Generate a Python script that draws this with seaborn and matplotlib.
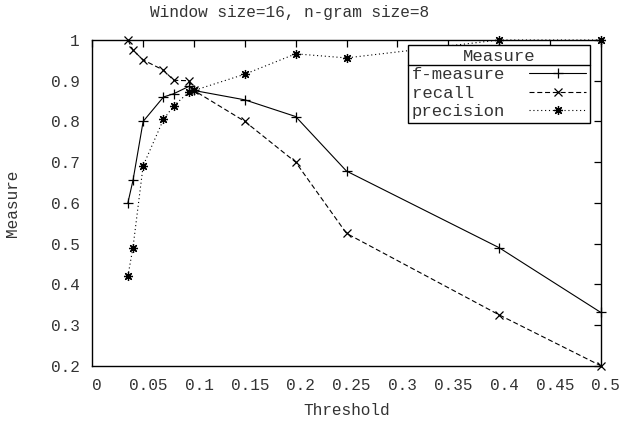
import matplotlib
matplotlib.use("Agg")
import matplotlib.pyplot as plt
import matplotlib.transforms as mtransforms
from matplotlib.lines import Line2D
import seaborn as sns

# Detection quality against the decision threshold
threshold = [0.035, 0.04, 0.05, 0.07, 0.08, 0.095, 0.1, 0.15, 0.2, 0.25, 0.4, 0.5]
f_measure = [0.600, 0.655, 0.800, 0.860, 0.868, 0.886, 0.876, 0.853, 0.812, 0.678, 0.490, 0.331]
recall = [1.000, 0.975, 0.951, 0.926, 0.901, 0.900, 0.876, 0.800, 0.700, 0.525, 0.325, 0.200]
precision = [0.420, 0.490, 0.691, 0.805, 0.838, 0.872, 0.876, 0.916, 0.966, 0.956, 1.000, 1.000]

series_names = ["f-measure", "recall", "precision"]
x_ticks = [0, 0.05, 0.1, 0.15, 0.2, 0.25, 0.3, 0.35, 0.4, 0.45, 0.5]
x_tick_labels = ["0", "0.05", "0.1", "0.15", "0.2", "0.25", "0.3", "0.35", "0.4", "0.45", "0.5"]
y_ticks = [0.2, 0.3, 0.4, 0.5, 0.6, 0.7, 0.8, 0.9, 1.0]
y_tick_labels = ["0.2", "0.3", "0.4", "0.5", "0.6", "0.7", "0.8", "0.9", "1"]

sns.set_theme(style="white")
plt.rcParams["font.family"] = ["Liberation Mono", "DejaVu Sans Mono"]
TXT = "#333333"
plt.rcParams["text.color"] = TXT

FS = 11.6
LFS = 12.4
fig = plt.figure(figsize=(6.24, 4.29), dpi=100)
W, H = 624, 429
left, right, top, bottom = 92.3, 600.7, 40.0, 365.7
ax = fig.add_axes([left / W, 1 - bottom / H, (right - left) / W, (bottom - top) / H])

styles = [
    dict(linestyle="-", marker="+", markersize=7),
    dict(linestyle=(0, (4.5, 2.5)), marker="x", markersize=6),
    dict(linestyle=(0, (1, 2.5)), marker=(8, 2, 0), markersize=6.5),
]
# monospaced labels padded to equal width so they line up on the left
width = max(len(n) for n in series_names)
for name, vals, st in zip(series_names, [f_measure, recall, precision], styles):
    sns.lineplot(x=threshold, y=vals, ax=ax, color="black", lw=0.8,
                 markeredgewidth=0.9, markeredgecolor="black",
                 label=name.ljust(width), clip_on=False, zorder=3, **st)

ax.set_xlim(0, 0.5)
ax.set_ylim(0.2, 1.0)
ax.set_xticks(x_ticks)
ax.set_xticklabels(x_tick_labels)
ax.set_yticks(y_ticks)
ax.set_yticklabels(y_tick_labels)

for sp in ax.spines.values():
    sp.set_color("black")
    sp.set_linewidth(1.0)
ax.tick_params(axis="both", direction="in", length=5, width=0.9, color="black",
               top=True, right=True, labelsize=FS, labelcolor=TXT)
ax.tick_params(axis="x", pad=9)
ax.tick_params(axis="y", pad=9)

# gnuplot-style offset of x tick labels
shift = mtransforms.ScaledTranslation(5 / 100, 0, fig.dpi_scale_trans)
for lbl in ax.get_xticklabels():
    lbl.set_transform(lbl.get_transform() + shift)

ax.set_xlabel("Threshold", fontsize=FS, color=TXT, labelpad=7)
ax.set_ylabel("Measure", fontsize=FS, color=TXT, labelpad=22)
fig.text(290 / W, 1 - 13 / H, "Window size=16, n-gram size=8", ha="center", va="center",
         fontsize=FS, color=TXT)

lg = ax.legend(title="Measure", loc="upper right", bbox_to_anchor=(0.979, 0.985),
               borderaxespad=0, markerfirst=False, fontsize=LFS,
               title_fontsize=LFS, frameon=True, fancybox=False, shadow=False,
               framealpha=1, edgecolor="black", handlelength=3.3, handletextpad=1.4,
               borderpad=0.22, labelspacing=0.2)
lg.get_frame().set_linewidth(1.0)
lg.set_zorder(5)
for t in lg.get_texts():
    t.set_color(TXT)
lg.get_title().set_color(TXT)

fig.canvas.draw()
r = fig.canvas.get_renderer()
fb = lg.get_frame().get_window_extent(r)
tb = lg.get_title().get_window_extent(r)
ysep = tb.y0 - 1
fig.add_artist(Line2D([fb.x0 / W, fb.x1 / W], [ysep / H, ysep / H], color="black",
                      lw=1.0, transform=fig.transFigure, zorder=6))

fig.savefig("out.png", dpi=100)
